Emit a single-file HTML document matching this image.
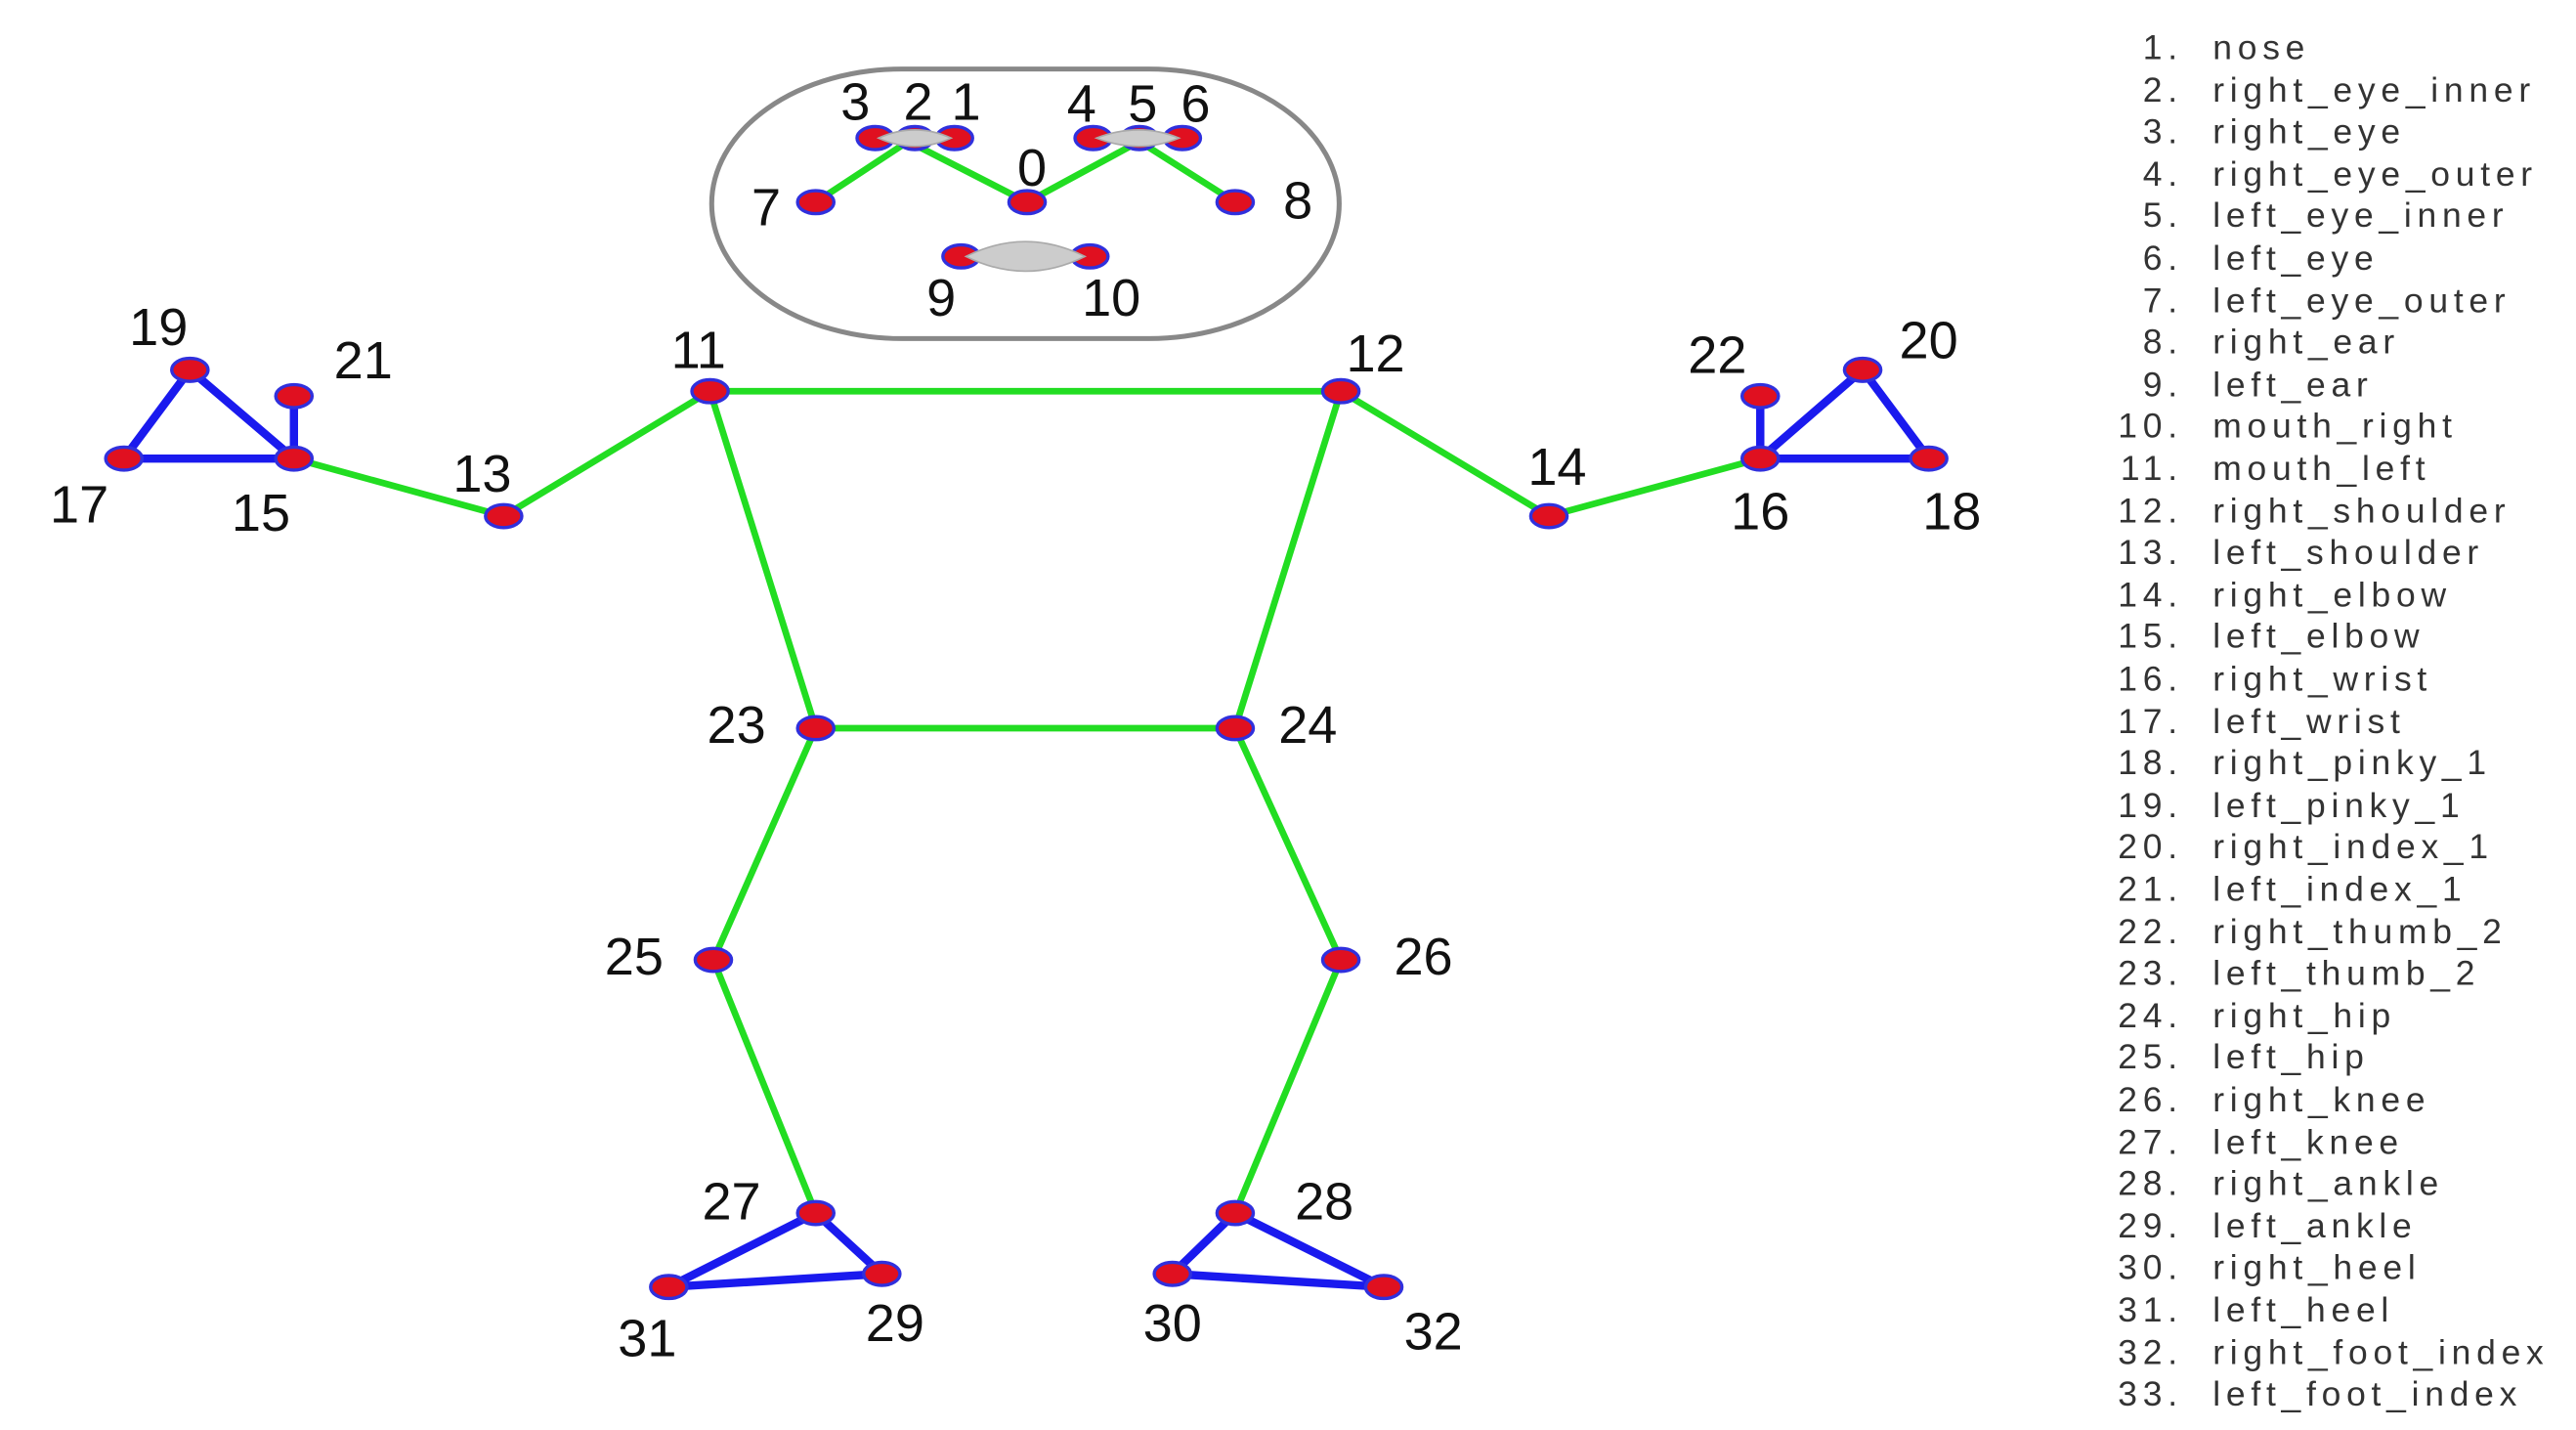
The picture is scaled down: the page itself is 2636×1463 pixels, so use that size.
<!DOCTYPE html>
<html><head><meta charset="utf-8"><style>
html,body{margin:0;padding:0;background:#fff;}
svg{display:block;}
text{font-family:"Liberation Sans",sans-serif;}
</style></head><body>
<svg width="2636" height="1463" viewBox="0 0 1560 870" preserveAspectRatio="none" xmlns="http://www.w3.org/2000/svg">
<rect width="1560" height="870" fill="#fff"/>
<rect x="431" y="42" width="380" height="164" rx="115" ry="82" fill="none" stroke="#888" stroke-width="3"/>
<g stroke="#22dd22" stroke-width="4" fill="none" stroke-linecap="round">
<polyline points="494,123 550,86 622,123 690,86 748,123"/>
<line x1="430" y1="238" x2="812" y2="238"/>
<line x1="430" y1="238" x2="494" y2="443"/>
<line x1="812" y1="238" x2="748" y2="443"/>
<line x1="494" y1="443" x2="748" y2="443"/>
<polyline points="430,238 305,314 178,279"/>
<polyline points="812,238 938,314 1066,279"/>
<polyline points="494,443 432,584 494,738"/>
<polyline points="748,443 812,584 748,738"/>
</g>
<g stroke="#1a1aee" stroke-width="5" fill="none" stroke-linejoin="round">
<polygon points="178,279 75,279 115,225"/>
<line x1="178" y1="279" x2="178" y2="241"/>
<polygon points="1066,279 1168,279 1128,225"/>
<line x1="1066" y1="279" x2="1066" y2="241"/>
<polygon points="494,738 534,775 405,783"/>
<polygon points="748,738 710,775 838,783"/>
</g>
<g fill="#e01020" stroke="#3030dd" stroke-width="2">
<ellipse cx="622" cy="123" rx="11" ry="7"/>
<ellipse cx="530" cy="84" rx="11" ry="7"/><ellipse cx="554" cy="84" rx="11" ry="7"/><ellipse cx="578" cy="84" rx="11" ry="7"/>
<ellipse cx="662" cy="84" rx="11" ry="7"/><ellipse cx="690" cy="84" rx="11" ry="7"/><ellipse cx="716" cy="84" rx="11" ry="7"/>
<ellipse cx="494" cy="123" rx="11" ry="7"/><ellipse cx="748" cy="123" rx="11" ry="7"/>
<ellipse cx="582" cy="156" rx="11" ry="7"/><ellipse cx="660" cy="156" rx="11" ry="7"/>
<ellipse cx="430" cy="238" rx="11" ry="7"/><ellipse cx="812" cy="238" rx="11" ry="7"/>
<ellipse cx="305" cy="314" rx="11" ry="7"/><ellipse cx="938" cy="314" rx="11" ry="7"/>
<ellipse cx="178" cy="279" rx="11" ry="7"/><ellipse cx="1066" cy="279" rx="11" ry="7"/>
<ellipse cx="75" cy="279" rx="11" ry="7"/><ellipse cx="1168" cy="279" rx="11" ry="7"/>
<ellipse cx="115" cy="225" rx="11" ry="7"/><ellipse cx="1128" cy="225" rx="11" ry="7"/>
<ellipse cx="178" cy="241" rx="11" ry="7"/><ellipse cx="1066" cy="241" rx="11" ry="7"/>
<ellipse cx="494" cy="443" rx="11" ry="7"/><ellipse cx="748" cy="443" rx="11" ry="7"/>
<ellipse cx="432" cy="584" rx="11" ry="7"/><ellipse cx="812" cy="584" rx="11" ry="7"/>
<ellipse cx="494" cy="738" rx="11" ry="7"/><ellipse cx="748" cy="738" rx="11" ry="7"/>
<ellipse cx="534" cy="775" rx="11" ry="7"/><ellipse cx="710" cy="775" rx="11" ry="7"/>
<ellipse cx="405" cy="783" rx="11" ry="7"/><ellipse cx="838" cy="783" rx="11" ry="7"/>
</g>
<g fill="#cccccc" stroke="#aaa" stroke-width="1">
<path d="M532,84 Q554,74 576,84 Q554,94 532,84Z"/>
<path d="M664,84 Q690,74 714,84 Q690,94 664,84Z"/>
<path d="M585,156 Q621,138 657,156 Q621,174 585,156Z"/>
</g>
<g font-size="32" fill="#111" text-anchor="middle">
<text x="518" y="73">3</text><text x="556" y="73">2</text><text x="585" y="73">1</text>
<text x="655" y="74">4</text><text x="692" y="74">5</text><text x="724" y="74">6</text>
<text x="625" y="113">0</text><text x="464" y="137">7</text><text x="786" y="133">8</text>
<text x="570" y="192">9</text><text x="673" y="192">10</text>
<text x="423" y="224">11</text><text x="833" y="226">12</text>
<text x="96" y="210">19</text><text x="220" y="230">21</text>
<text x="48" y="318">17</text><text x="158" y="323">15</text><text x="292" y="299">13</text>
<text x="943" y="295">14</text><text x="1040" y="227">22</text><text x="1168" y="218">20</text>
<text x="1066" y="322">16</text><text x="1182" y="322">18</text>
<text x="446" y="452">23</text><text x="792" y="452">24</text>
<text x="384" y="593">25</text><text x="862" y="593">26</text>
<text x="443" y="742">27</text><text x="802" y="742">28</text>
<text x="392" y="825">31</text><text x="542" y="816">29</text>
<text x="710" y="816">30</text><text x="868" y="821">32</text>
</g>
<g font-size="21" fill="#333" letter-spacing="3.4">
<g text-anchor="end">
<text x="1322" y="36">1.</text><text x="1322" y="62">2.</text><text x="1322" y="87">3.</text><text x="1322" y="113">4.</text>
<text x="1322" y="138">5.</text><text x="1322" y="164">6.</text><text x="1322" y="190">7.</text><text x="1322" y="215">8.</text>
<text x="1322" y="241">9.</text><text x="1322" y="266">10.</text><text x="1322" y="292">11.</text><text x="1322" y="318">12.</text>
<text x="1322" y="343">13.</text><text x="1322" y="369">14.</text><text x="1322" y="394">15.</text><text x="1322" y="420">16.</text>
<text x="1322" y="446">17.</text><text x="1322" y="471">18.</text><text x="1322" y="497">19.</text><text x="1322" y="522">20.</text>
<text x="1322" y="548">21.</text><text x="1322" y="574">22.</text><text x="1322" y="599">23.</text><text x="1322" y="625">24.</text>
<text x="1322" y="650">25.</text><text x="1322" y="676">26.</text><text x="1322" y="702">27.</text><text x="1322" y="727">28.</text>
<text x="1322" y="753">29.</text><text x="1322" y="778">30.</text><text x="1322" y="804">31.</text><text x="1322" y="830">32.</text>
<text x="1322" y="855">33.</text>
</g>
<text x="1340" y="36">nose</text><text x="1340" y="62">right_eye_inner</text><text x="1340" y="87">right_eye</text><text x="1340" y="113">right_eye_outer</text>
<text x="1340" y="138">left_eye_inner</text><text x="1340" y="164">left_eye</text><text x="1340" y="190">left_eye_outer</text><text x="1340" y="215">right_ear</text>
<text x="1340" y="241">left_ear</text><text x="1340" y="266">mouth_right</text><text x="1340" y="292">mouth_left</text><text x="1340" y="318">right_shoulder</text>
<text x="1340" y="343">left_shoulder</text><text x="1340" y="369">right_elbow</text><text x="1340" y="394">left_elbow</text><text x="1340" y="420">right_wrist</text>
<text x="1340" y="446">left_wrist</text><text x="1340" y="471">right_pinky_1</text><text x="1340" y="497">left_pinky_1</text><text x="1340" y="522">right_index_1</text>
<text x="1340" y="548">left_index_1</text><text x="1340" y="574">right_thumb_2</text><text x="1340" y="599">left_thumb_2</text><text x="1340" y="625">right_hip</text>
<text x="1340" y="650">left_hip</text><text x="1340" y="676">right_knee</text><text x="1340" y="702">left_knee</text><text x="1340" y="727">right_ankle</text>
<text x="1340" y="753">left_ankle</text><text x="1340" y="778">right_heel</text><text x="1340" y="804">left_heel</text><text x="1340" y="830">right_foot_index</text>
<text x="1340" y="855">left_foot_index</text>
</g>
</svg>
</body></html>
